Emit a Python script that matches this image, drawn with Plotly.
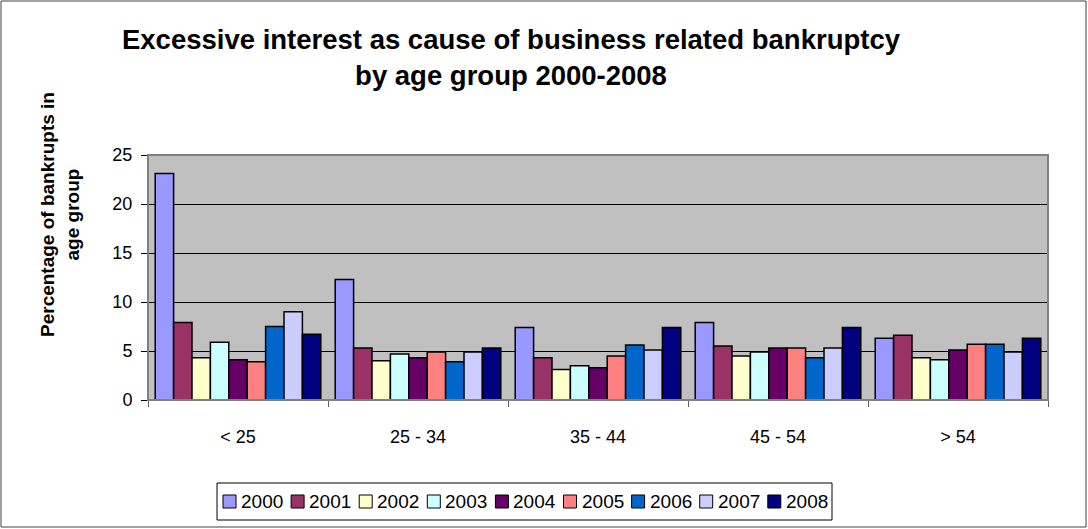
import plotly.graph_objects as go

categories = ["< 25", "25 - 34", "35 - 44", "45 - 54", "> 54"]
years = ["2000", "2001", "2002", "2003", "2004", "2005", "2006", "2007", "2008"]

v2000 = [23.1, 12.3, 7.4, 7.9, 6.3]
v2001 = [7.9, 5.3, 4.3, 5.5, 6.6]
v2002 = [4.3, 4.0, 3.1, 4.5, 4.3]
v2003 = [5.9, 4.7, 3.5, 4.9, 4.1]
v2004 = [4.1, 4.3, 3.3, 5.3, 5.1]
v2005 = [3.9, 4.9, 4.5, 5.3, 5.7]
v2006 = [7.5, 3.9, 5.6, 4.3, 5.7]
v2007 = [9.0, 4.9, 5.1, 5.3, 4.9]
v2008 = [6.7, 5.3, 7.4, 7.4, 6.3]

series = [v2000, v2001, v2002, v2003, v2004, v2005, v2006, v2007, v2008]
colors = ["#9999FF", "#993366", "#FFFFCC", "#CCFFFF", "#660066",
          "#FF8080", "#0066CC", "#CCCCFF", "#000080"]

FONT = "Arial, Liberation Sans, sans-serif"

fig = go.Figure()
for yr, vals, col in zip(years, series, colors):
    fig.add_trace(go.Bar(
        x=categories, y=vals, name=yr,
        marker=dict(color=col, line=dict(color="black", width=1.5)),
        showlegend=False,
    ))

W, H = 1088, 529
L, R, T, B = 148, 1048, 155, 400
pw, ph = R - L, B - T


def px(x):
    return (x - L) / pw


def py(y):
    return (B - y) / ph


shapes = [
    # plot-area frame
    dict(type="rect", xref="paper", yref="paper", x0=0, x1=1, y0=0, y1=1,
         line=dict(color="#808080", width=2), layer="above"),
    # outer chart frame
    dict(type="rect", xref="paper", yref="paper",
         x0=px(1), x1=px(1086), y0=py(527), y1=py(1),
         line=dict(color="#404040", width=1), layer="below"),
    # legend frame
    dict(type="rect", xref="paper", yref="paper",
         x0=px(217), x1=px(832), y0=py(520), y1=py(483),
         line=dict(color="black", width=1), fillcolor="white", layer="below"),
]
annotations = []

# legend entries (built from the years / colours lists)
leg_x0, leg_pitch, leg_cy, sq = 223, 68.1, 501.5, 13
for i, (yr, col) in enumerate(zip(years, colors)):
    bx = leg_x0 + i * leg_pitch
    shapes.append(dict(
        type="rect", xref="paper", yref="paper",
        x0=px(bx), x1=px(bx + sq), y0=py(leg_cy + sq / 2), y1=py(leg_cy - sq / 2),
        line=dict(color="black", width=1), fillcolor=col, layer="above"))
    annotations.append(dict(
        text=yr, xref="paper", yref="paper", x=px(bx + sq + 3), y=py(leg_cy),
        xanchor="left", yanchor="middle", showarrow=False,
        font=dict(family=FONT, size=19, color="black")))

# y-axis title
annotations.append(dict(
    text="<b>Percentage of bankrupts in<br>age group</b>",
    xref="paper", yref="paper", x=px(60), y=py(215),
    xanchor="center", yanchor="middle", textangle=-90, showarrow=False,
    font=dict(family=FONT, size=19, color="black")))

fig.update_layout(
    width=W, height=H,
    margin=dict(l=L, r=W - R, t=T, b=H - B, pad=0),
    paper_bgcolor="white",
    plot_bgcolor="#C0C0C0",
    barmode="group",
    bargap=0.08,
    bargroupgap=0,
    font=dict(family=FONT, size=18, color="black"),
    title=dict(
        text="Excessive interest as cause of business related bankruptcy<br>by age group 2000-2008",
        font=dict(family=FONT, size=27.5, color="black", weight="bold"),
        x=511 / W, xanchor="center", xref="container",
        y=1 - 49 / H, yanchor="middle",
    ),
    showlegend=False,
    xaxis=dict(
        showline=True, linecolor="black", linewidth=1,
        ticks="outside", tickson="boundaries", ticklen=6, tickcolor="#606060",
        tickfont=dict(family=FONT, size=18, color="black"),
        ticklabelstandoff=20,
        showgrid=False,
    ),
    yaxis=dict(
        range=[0, 25], dtick=5, tick0=0,
        showline=True, linecolor="#606060", linewidth=1,
        ticks="outside", ticklen=6, tickcolor="black",
        tickfont=dict(family=FONT, size=18, color="black"),
        ticklabelstandoff=5,
        showgrid=True, gridcolor="black", gridwidth=1,
        zeroline=False,
    ),
    shapes=shapes,
    annotations=annotations,
)

fig.write_html(
    "out.html",
    config={"displayModeBar": False},
    post_script="document.body.style.margin='0px';document.body.style.overflow='hidden';",
)
